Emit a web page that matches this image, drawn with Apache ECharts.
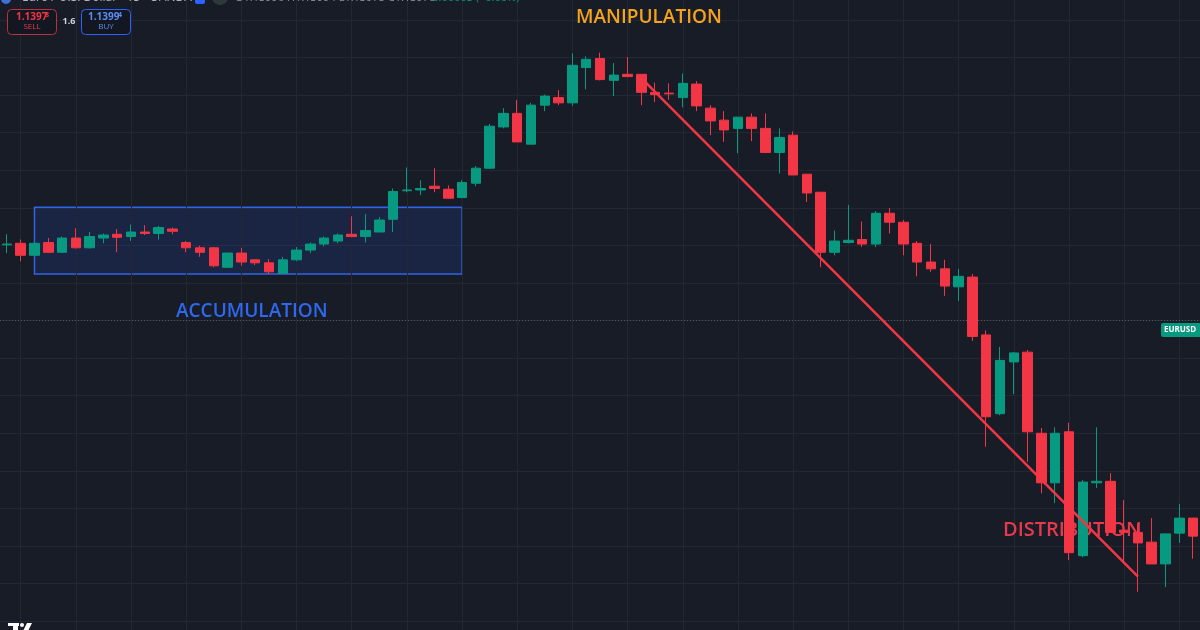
<!DOCTYPE html>
<html>
<head>
<meta charset="utf-8">
<script src="https://cdn.jsdelivr.net/npm/echarts@6/dist/echarts.min.js"></script>
<style>
html,body{margin:0;padding:0;background:#181c27;}
#chart{width:1200px;height:630px;}
</style>
</head>
<body>
<div id="chart"></div>
<script>
// EURUSD 15-minute candles
const opens = [
  1.14101,1.14103,1.14087,1.14104,1.14091,1.14110,1.14097,1.14110,1.14115,1.14112,
  1.14118,1.14116,1.14122,1.14104,1.14097,1.14097,1.14071,1.14090,1.14081,1.14077,
  1.14063,1.14081,1.14094,1.14102,1.14106,1.14115,1.14112,1.14118,1.14135,1.14173,
  1.14174,1.14179,1.14175,1.14164,1.14183,1.14203,1.14258,1.14276,1.14235,1.14287,
  1.14297,1.14290,1.14337,1.14349,1.14320,1.14328,1.14328,1.14304,1.14303,1.14297,
  1.14315,1.14283,1.14267,1.14256,1.14271,1.14256,1.14224,1.14247,1.14195,1.14171,
  1.14091,1.14104,1.14108,1.14102,1.14143,1.14131,1.14103,1.14078,1.14069,1.14045,
  1.14058,1.13981,1.13876,1.13945,1.13958,1.13850,1.13784,1.13852,1.13687,1.13784,
  1.13786,1.13721,1.13718,1.13705,1.13676,1.13717,1.13737
];
const closes = [
  1.14102,1.14087,1.14103,1.14091,1.14110,1.14097,1.14112,1.14114,1.14111,1.14118,
  1.14116,1.14124,1.14119,1.14097,1.14091,1.14073,1.14090,1.14078,1.14077,1.14065,
  1.14081,1.14094,1.14102,1.14110,1.14114,1.14112,1.14120,1.14134,1.14172,1.14174,
  1.14176,1.14176,1.14163,1.14184,1.14203,1.14259,1.14276,1.14238,1.14287,1.14299,
  1.14290,1.14340,1.14348,1.14321,1.14327,1.14325,1.14304,1.14301,1.14302,1.14316,
  1.14286,1.14266,1.14254,1.14271,1.14256,1.14224,1.14244,1.14194,1.14170,1.14091,
  1.14106,1.14107,1.14102,1.14143,1.14131,1.14102,1.14078,1.14069,1.14046,1.14059,
  1.13979,1.13872,1.13947,1.13957,1.13852,1.13784,1.13850,1.13691,1.13785,1.13786,
  1.13718,1.13718,1.13704,1.13676,1.13716,1.13737,1.13713
];
const lows = [
  1.14090,1.14079,1.14086,1.14090,1.14090,1.14096,1.14096,1.14103,1.14091,1.14106,
  1.14114,1.14108,1.14115,1.14091,1.14085,1.14071,1.14070,1.14073,1.14074,1.14062,
  1.14062,1.14079,1.14090,1.14099,1.14103,1.14111,1.14104,1.14118,1.14118,1.14171,
  1.14167,1.14171,1.14162,1.14163,1.14179,1.14202,1.14256,1.14238,1.14235,1.14279,
  1.14287,1.14286,1.14308,1.14320,1.14299,1.14325,1.14287,1.14291,1.14294,1.14284,
  1.14279,1.14247,1.14238,1.14223,1.14239,1.14223,1.14196,1.14194,1.14158,1.14071,
  1.14087,1.14103,1.14098,1.14098,1.14116,1.14087,1.14059,1.14065,1.14033,1.14026,
  1.13973,1.13832,1.13874,1.13902,1.13812,1.13770,1.13757,1.13681,1.13685,1.13777,
  1.13718,1.13677,1.13639,1.13676,1.13645,1.13704,1.13683
];
const highs = [
  1.14115,1.14108,1.14104,1.14110,1.14112,1.14123,1.14118,1.14116,1.14122,1.14128,
  1.14127,1.14126,1.14124,1.14106,1.14100,1.14098,1.14090,1.14097,1.14082,1.14082,
  1.14085,1.14098,1.14104,1.14112,1.14116,1.14139,1.14142,1.14138,1.14176,1.14204,
  1.14187,1.14203,1.14180,1.14187,1.14206,1.14262,1.14283,1.14294,1.14290,1.14301,
  1.14307,1.14356,1.14352,1.14357,1.14343,1.14351,1.14328,1.14317,1.14316,1.14329,
  1.14319,1.14287,1.14279,1.14271,1.14276,1.14276,1.14256,1.14252,1.14195,1.14171,
  1.14120,1.14154,1.14132,1.14146,1.14150,1.14134,1.14106,1.14102,1.14081,1.14069,
  1.14062,1.13987,1.13965,1.13958,1.13961,1.13857,1.13858,1.13864,1.13788,1.13858,
  1.13797,1.13761,1.13730,1.13737,1.13716,1.13756,1.13737
];
// bar times (15-minute bars)
const times = opens.map((_, i) => {
  const m = 9 * 60 + i * 15;
  const h = Math.floor(m / 60) % 24, mm = m % 60;
  return (h < 10 ? '0' : '') + h + ':' + (mm < 10 ? '0' : '') + mm;
});
// visible price range and price grid levels
const priceMin = 1.13588, priceMax = 1.14427;
const gridPriceMin = 1.1360, gridPriceMax = 1.1440, gridPriceStep = 0.0005;
// annotations: [bar index, price]
const zoneStart = [2, 1.14151];
const zoneEnd = [33, 1.14062];
const trendStart = [46, 1.14323];
const trendEnd = [82, 1.13659];
const lastPrice = 1.13987;
const gridBars = [1,5,9,13,17,21,25,29,33,37,41,45,49,53,57,61,65,69,73,77,81,85];

const UP = '#089981', DOWN = '#f23645', GRID = '#232733';
const candleData = opens.map((o, i) => [o, closes[i], lows[i], highs[i]]);

const chart = echarts.init(document.getElementById('chart'), null, {renderer: 'canvas'});
const FONT = '"Open Sans", "Noto Sans", sans-serif';
const hiddenAxis = {axisLine: {show: false}, axisTick: {show: false}, axisLabel: {show: false}};

chart.setOption({
  backgroundColor: '#181c27',
  animation: false,
  grid: [
    {left: 0, right: 0, top: 0, bottom: 0, containLabel: false},
    {left: 0, right: 0, top: 20, bottom: 9, containLabel: false}
  ],
  xAxis: [
    Object.assign({gridIndex: 0, type: 'category', data: times, boundaryGap: true, splitLine: {show: false}}, hiddenAxis),
    Object.assign({gridIndex: 1, type: 'category', data: times, boundaryGap: true, splitLine: {show: false}}, hiddenAxis)
  ],
  yAxis: [
    Object.assign({gridIndex: 0, type: 'value', min: priceMin, max: priceMax, splitLine: {show: false}}, hiddenAxis),
    Object.assign({gridIndex: 1, type: 'value', min: gridPriceMin, max: gridPriceMax, interval: gridPriceStep,
      splitLine: {show: true, lineStyle: {color: GRID, width: 1}}}, hiddenAxis)
  ],
  graphic: [
    // annotation texts (above the grid, beneath the candles)
    {type: 'text', z: 2, style: {x: 576, y: 18, text: 'MANIPULATION', fill: '#f5a31b', font: '600 19px ' + FONT, verticalAlign: 'middle'}},
    {type: 'text', z: 2, style: {x: 176, y: 312, text: 'ACCUMULATION', fill: '#2f68ee', font: '600 19px ' + FONT, verticalAlign: 'middle'}},
    {type: 'text', z: 2, style: {x: 1003, y: 530, text: 'DISTRIBUTION', fill: '#e8384b', font: '600 20px ' + FONT, verticalAlign: 'middle'}},
    // header row (cut at the top)
    {type: 'circle', z: 10, shape: {cx: 6, cy: -1, r: 5}, style: {fill: '#3d6fd6'}},
    {type: 'text', z: 10, style: {x: 22, y: -8, text: 'Euro / U.S. Dollar · 15 · OANDA', fill: '#b2b5be', font: '12px ' + FONT}},
    {type: 'rect', z: 10, shape: {x: 195, y: -6, width: 10, height: 10, r: 2}, style: {fill: '#2962ff'}},
    {type: 'circle', z: 10, shape: {cx: 220, cy: -3, r: 8}, style: {fill: '#2c3a3a'}},
    {type: 'text', z: 10, style: {x: 235, y: -8, text: 'O1.13990 H1.13994 L1.13975 C1.13978', fill: '#8c909b', font: '11px ' + FONT}},
    {type: 'text', z: 10, style: {x: 426, y: -8, text: '+0.00003 (+0.00%)', fill: '#089981', font: '11px ' + FONT}},
    // SELL / BUY boxes
    {type: 'rect', z: 10, shape: {x: 7.5, y: 9.5, width: 49, height: 25, r: 4}, style: {fill: '#131722', stroke: '#b8323f', lineWidth: 1}},
    {type: 'text', z: 11, style: {x: 16, y: 12, text: '1.1397', fill: '#f23645', font: 'bold 10px ' + FONT}},
    {type: 'text', z: 11, style: {x: 45, y: 11, text: '8', fill: '#f23645', font: 'bold 7px ' + FONT}},
    {type: 'text', z: 11, style: {x: 32, y: 23, text: 'SELL', fill: '#f23645', font: '8px ' + FONT, align: 'center'}},
    {type: 'text', z: 11, style: {x: 69, y: 17, text: '1.6', fill: '#d1d4dc', font: 'bold 9px ' + FONT, align: 'center'}},
    {type: 'rect', z: 10, shape: {x: 81.5, y: 9.5, width: 49, height: 25, r: 4}, style: {fill: '#131722', stroke: '#2962ff', lineWidth: 1}},
    {type: 'text', z: 11, style: {x: 88, y: 12, text: '1.1399', fill: '#5b8cf4', font: 'bold 10px ' + FONT}},
    {type: 'text', z: 11, style: {x: 118, y: 11, text: '4', fill: '#5b8cf4', font: 'bold 7px ' + FONT}},
    {type: 'text', z: 11, style: {x: 106, y: 23, text: 'BUY', fill: '#5b8cf4', font: '8px ' + FONT, align: 'center'}},
    // symbol price label
    {type: 'rect', z: 10, shape: {x: 1161, y: 323, width: 40, height: 14, r: 2}, style: {fill: '#089981'}},
    {type: 'text', z: 11, style: {x: 1180, y: 326, text: 'EURUSD', fill: '#ffffff', font: 'bold 8px ' + FONT, align: 'center'}},
    // logo at bottom left (cut)
    {type: 'rect', z: 10, shape: {x: 8, y: 623, width: 11, height: 3}, style: {fill: '#ffffff'}},
    {type: 'rect', z: 10, shape: {x: 13, y: 623, width: 5, height: 8}, style: {fill: '#ffffff'}},
    {type: 'circle', z: 10, shape: {cx: 22, cy: 625, r: 2}, style: {fill: '#ffffff'}},
    {type: 'polygon', z: 10, shape: {points: [[27, 623], [32, 623], [28, 631], [23, 631]]}, style: {fill: '#ffffff'}}
  ],
  series: [
    {type: 'line', xAxisIndex: 1, yAxisIndex: 1, data: [], silent: true},
    {
      type: 'line', data: [], z: 1, silent: true,
      markLine: {
        z: 1, silent: true, symbol: ['none', 'none'], label: {show: false},
        lineStyle: {color: GRID, type: 'solid', width: 1},
        emphasis: {disabled: true},
        data: gridBars.map(i => ({xAxis: times[i]}))
          .concat([{yAxis: lastPrice, lineStyle: {color: '#4a5a5e', type: [1, 2], width: 1}}])
      },
      markArea: {
        z: 1, silent: true,
        itemStyle: {color: 'rgba(41,98,255,0.13)', borderColor: '#2f63e8', borderWidth: 1.5},
        data: [[
          {coord: [times[zoneStart[0]], zoneStart[1]]},
          {coord: [times[zoneEnd[0]], zoneEnd[1]]}
        ]]
      }
    },
    {
      type: 'candlestick', z: 3, barWidth: 10,
      data: candleData,
      itemStyle: {color: UP, color0: DOWN, borderColor: UP, borderColor0: DOWN, borderWidth: 1}
    },
    {
      type: 'line', data: [], z: 4, silent: true,
      markLine: {
        z: 5, silent: true, symbol: ['none', 'none'], label: {show: false},
        lineStyle: {color: '#f23645', type: 'solid', width: 2.5},
        data: [[
          {coord: [times[trendStart[0]], trendStart[1]]},
          {coord: [times[trendEnd[0]], trendEnd[1]]}
        ]]
      }
    }
  ]
});
</script>
</body>
</html>
